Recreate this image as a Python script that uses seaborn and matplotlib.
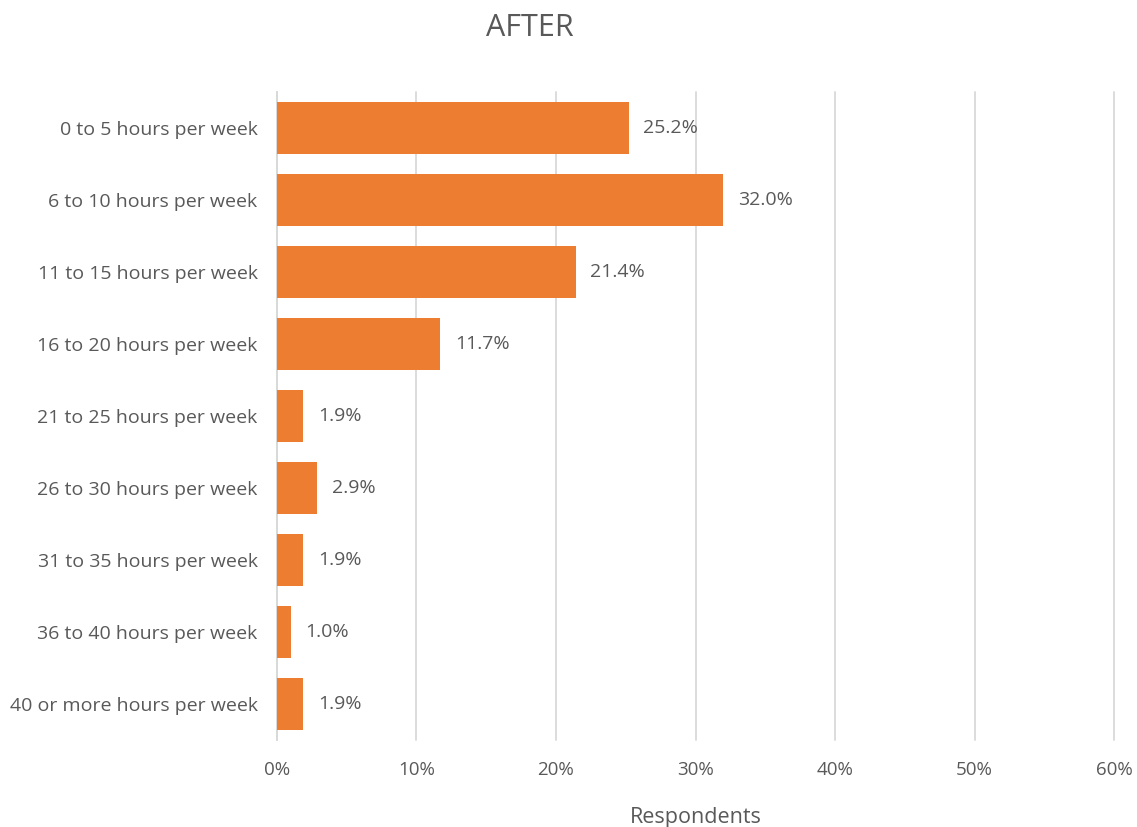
import numpy as np
import pandas as pd
import matplotlib
matplotlib.use("Agg")
import matplotlib.pyplot as plt
import seaborn as sns
from matplotlib.ticker import PercentFormatter

categories = [
    "0 to 5 hours per week",
    "6 to 10 hours per week",
    "11 to 15 hours per week",
    "16 to 20 hours per week",
    "21 to 25 hours per week",
    "26 to 30 hours per week",
    "31 to 35 hours per week",
    "36 to 40 hours per week",
    "40 or more hours per week",
]
values = [25.2, 32.0, 21.4, 11.7, 1.9, 2.9, 1.9, 1.0, 1.9]
x_ticks = [0, 10, 20, 30, 40, 50, 60]

text_color = "#595959"
bar_color = "#ED7D31"
grid_color = "#D9D9D9"

sns.set_style("white")
plt.rcParams['font.family'] = ['Open Sans', 'DejaVu Sans']

df = pd.DataFrame({"category": categories, "value": values})

fig = plt.figure(figsize=(11.37, 8.27), dpi=100)
ax = fig.add_axes([0.2436, 0.1052, 0.7362, 0.7836])

sns.barplot(data=df, x="value", y="category", color=bar_color, saturation=1,
            width=0.71, linewidth=0, ax=ax, zorder=3)

for i, v in enumerate(values):
    ax.text(v + 1.05, i, f"{v:.1f}%", va="center", ha="left",
            fontsize=14, color=text_color)

ax.set_xlim(0, 60)
ax.set_xticks(x_ticks)
ax.xaxis.set_major_formatter(PercentFormatter(decimals=0))
ax.grid(axis="x", color=grid_color, linewidth=1.3, zorder=0)
for line in ax.get_xgridlines():
    line.set_clip_on(False)
for s in ["top", "right", "bottom"]:
    ax.spines[s].set_visible(False)
ax.spines["left"].set_color(grid_color)
ax.spines["left"].set_linewidth(1.3)
ax.tick_params(axis="both", length=0, labelcolor=text_color)
ax.tick_params(axis="x", pad=15, labelsize=13.5)
ax.tick_params(axis="y", pad=14, labelsize=14)

ax.set_ylabel("")
ax.set_xlabel("Respondents", fontsize=15.5, color=text_color, labelpad=20)
fig.text(0.466, 0.966, "AFTER", ha="center", va="center", fontsize=22, color=text_color)

fig.savefig("out.png", dpi=100)
